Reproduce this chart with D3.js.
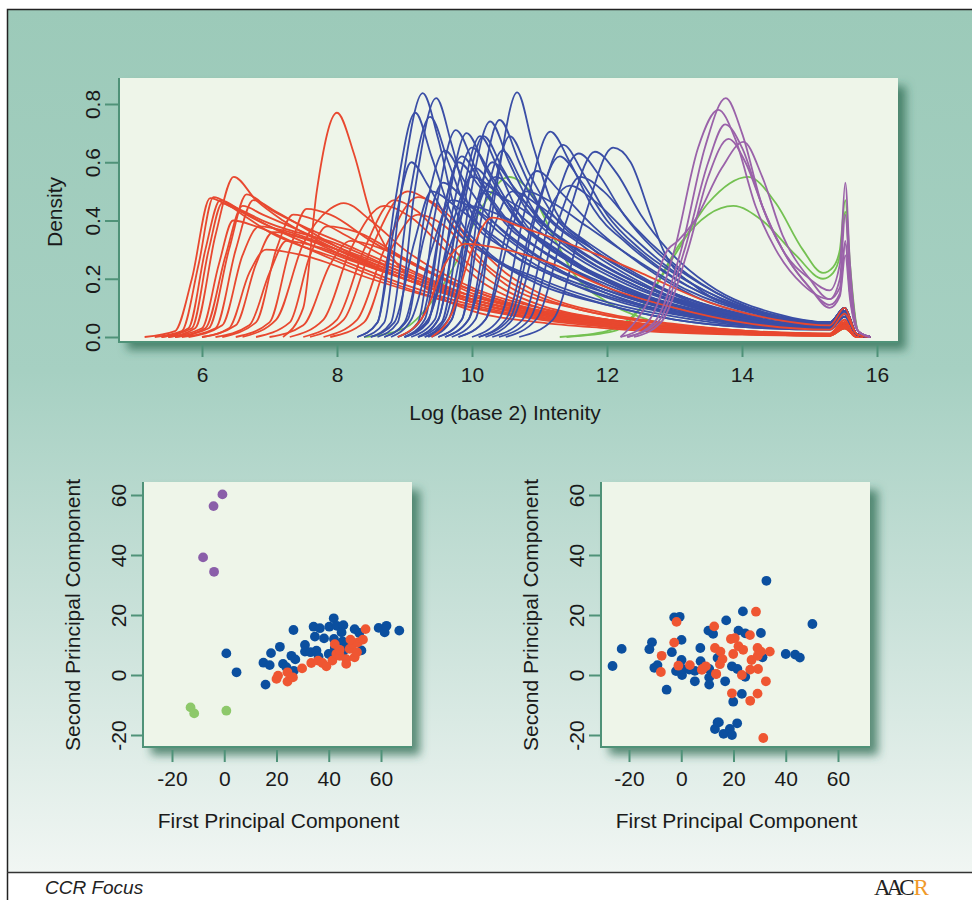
<!DOCTYPE html>
<html>
<head>
<meta charset="utf-8">
<script src="https://cdn.jsdelivr.net/npm/d3@7"></script>
<style>
  body { margin: 0; background: #ffffff; }
  svg { display: block; font-family: "Liberation Sans", Arial, sans-serif; }
  .axis-title { font-size: 21px; fill: #1a1a1a; }
  .axis-line { stroke: #4f9278; stroke-width: 2; fill: none; }
  .curve { fill: none; stroke-width: 1.8; stroke-linejoin: round; }
</style>
</head>
<body>
<svg id="figure"></svg>
<script>
/* SETUP */
var width = 972;
var height = 900;

/* DATA: density curves, knots [log2 intensity, density] */
var redCurves = [
  [[5.15,0],[5.6,0.02],[5.85,0.2],[6.12,0.477],[6.4,0.45],[7,0.38],[8,0.3],[9,0.21],[10,0.13],[11,0.08],[12,0.05],[13,0.03],[14,0.015],[15.3,0.008],[15.52,0.05],[15.65,0.005],[15.9,0]],
  [[5.3,0],[5.7,0.02],[5.95,0.25],[6.17,0.48],[6.45,0.45],[7,0.39],[8,0.32],[9,0.22],[10,0.14],[11,0.09],[12,0.06],[13,0.035],[14,0.02],[15.3,0.01],[15.52,0.06],[15.65,0.005],[15.9,0]],
  [[5.4,0],[5.8,0.03],[6.05,0.3],[6.27,0.47],[6.6,0.43],[7,0.38],[8,0.28],[9,0.2],[10,0.12],[11,0.07],[12,0.045],[13,0.025],[14,0.012],[15.3,0.006],[15.52,0.04],[15.7,0],[15.9,0]],
  [[5.5,0],[5.9,0.03],[6.2,0.35],[6.47,0.55],[6.8,0.47],[7.2,0.4],[8,0.3],[9,0.2],[10,0.12],[11,0.07],[12,0.04],[13,0.02],[14,0.01],[15.3,0.005],[15.52,0.04],[15.7,0],[15.9,0]],
  [[5.4,0],[5.85,0.03],[6.1,0.3],[6.3,0.46],[6.6,0.42],[7,0.36],[8,0.27],[9,0.18],[10,0.11],[11,0.065],[12,0.04],[13,0.02],[14,0.01],[15.3,0.005],[15.52,0.035],[15.7,0],[15.9,0]],
  [[5.6,0],[6.1,0.03],[6.4,0.3],[6.66,0.49],[7,0.44],[7.5,0.38],[8,0.33],[9,0.23],[10,0.14],[11,0.09],[12,0.06],[13,0.035],[14,0.018],[15.3,0.01],[15.52,0.05],[15.7,0],[15.9,0]],
  [[5.7,0],[6.2,0.03],[6.5,0.3],[6.76,0.47],[7.1,0.43],[8,0.31],[9,0.21],[10,0.13],[11,0.08],[12,0.05],[13,0.03],[14,0.015],[15.3,0.008],[15.52,0.045],[15.7,0],[15.9,0]],
  [[5.5,0],[6,0.03],[6.25,0.25],[6.46,0.4],[6.8,0.38],[7.5,0.31],[8,0.26],[9,0.17],[10,0.1],[11,0.06],[12,0.035],[13,0.02],[14,0.01],[15.3,0.005],[15.52,0.03],[15.7,0],[15.9,0]],
  [[5.6,0],[6.05,0.03],[6.35,0.28],[6.6,0.45],[6.9,0.42],[7.5,0.36],[8,0.31],[9,0.22],[10,0.13],[11,0.08],[12,0.05],[13,0.03],[14,0.015],[15.3,0.007],[15.52,0.04],[15.7,0],[15.9,0]],
  [[6.0,0],[6.5,0.04],[6.8,0.25],[7.05,0.36],[7.5,0.34],[8,0.29],[9,0.2],[10,0.12],[11,0.075],[12,0.045],[13,0.025],[14,0.012],[15.3,0.006],[15.52,0.04],[15.7,0],[15.9,0]],
  [[6.2,0],[6.7,0.04],[7.0,0.22],[7.25,0.33],[7.7,0.31],[8.5,0.24],[9.5,0.16],[10.5,0.1],[11.5,0.06],[12.5,0.035],[13.5,0.02],[14.5,0.01],[15.3,0.006],[15.52,0.04],[15.7,0],[15.9,0]],
  [[6.3,0],[6.8,0.05],[7.1,0.3],[7.35,0.42],[7.7,0.4],[8.2,0.34],[9,0.24],[10,0.14],[11,0.085],[12,0.05],[13,0.03],[14,0.015],[15.3,0.008],[15.52,0.05],[15.7,0],[15.9,0]],
  [[6.5,0],[7,0.05],[7.3,0.3],[7.55,0.44],[7.9,0.42],[8.5,0.33],[9.2,0.24],[10,0.16],[11,0.09],[12,0.055],[13,0.03],[14,0.015],[15.3,0.008],[15.52,0.05],[15.7,0],[15.9,0]],
  [[6.6,0],[7.1,0.06],[7.5,0.32],[7.9,0.44],[8.1,0.46],[8.5,0.4],[9,0.3],[10,0.17],[11,0.1],[12,0.06],[13,0.035],[14,0.018],[15.3,0.01],[15.52,0.05],[15.7,0],[15.9,0]],
  [[7.2,0],[7.5,0.1],[7.7,0.5],[8.0,0.77],[8.25,0.63],[8.5,0.42],[8.8,0.28],[9.3,0.17],[10,0.09],[11,0.05],[12,0.03],[13,0.015],[14,0.008],[15.3,0.004],[15.52,0.03],[15.7,0],[15.9,0]],
  [[6.8,0],[7.3,0.05],[7.6,0.28],[7.85,0.38],[8.3,0.36],[9,0.27],[10,0.15],[11,0.09],[12,0.055],[13,0.03],[14,0.015],[15.3,0.008],[15.52,0.04],[15.7,0],[15.9,0]],
  [[7.5,0],[8,0.06],[8.4,0.3],[8.85,0.47],[9.2,0.43],[9.6,0.33],[10,0.24],[10.5,0.16],[11,0.11],[12,0.06],[13,0.035],[14,0.018],[15.3,0.01],[15.52,0.05],[15.7,0],[15.9,0]],
  [[7.6,0],[8.1,0.06],[8.5,0.3],[9.05,0.5],[9.4,0.46],[9.8,0.36],[10.2,0.25],[10.7,0.17],[11.5,0.1],[12.5,0.055],[13.5,0.03],[14.5,0.015],[15.3,0.01],[15.52,0.05],[15.7,0],[15.9,0]],
  [[7.8,0],[8.3,0.06],[8.7,0.3],[9.2,0.48],[9.55,0.44],[10,0.33],[10.5,0.22],[11,0.15],[12,0.08],[13,0.045],[14,0.022],[15.3,0.012],[15.52,0.06],[15.7,0],[15.9,0]],
  [[7.3,0],[7.8,0.06],[8.2,0.3],[8.7,0.45],[9.1,0.41],[9.6,0.3],[10.2,0.18],[11,0.1],[12,0.055],[13,0.03],[14,0.015],[15.3,0.008],[15.52,0.04],[15.7,0],[15.9,0]],
  [[6.0,0],[6.4,0.03],[6.7,0.22],[6.95,0.3],[7.5,0.28],[8.5,0.2],[9.5,0.13],[10.5,0.08],[11.5,0.05],[12.5,0.03],[14,0.012],[15.3,0.006],[15.52,0.03],[15.7,0],[15.9,0]],
  [[7.0,0],[7.5,0.04],[7.9,0.25],[8.2,0.33],[8.7,0.3],[9.5,0.21],[10.5,0.12],[11.5,0.07],[12.5,0.04],[14,0.015],[15.3,0.008],[15.52,0.04],[15.7,0],[15.9,0]],
  [[5.8,0],[6.3,0.04],[6.6,0.28],[6.85,0.38],[7.3,0.36],[8,0.3],[9,0.2],[10,0.12],[11,0.07],[12,0.04],[13,0.022],[14,0.012],[15.3,0.006],[15.52,0.035],[15.7,0],[15.9,0]],
  [[7.9,0],[8.4,0.05],[8.8,0.3],[9.2,0.42],[9.6,0.38],[10,0.28],[10.5,0.18],[11.5,0.1],[12.5,0.055],[13.5,0.03],[15.3,0.01],[15.52,0.05],[15.7,0],[15.9,0]]
];

// red samples that sit on top of the blue bundle
var redLateCurves = [
  [[9.4,0],[9.7,0.08],[10,0.3],[10.3,0.41],[10.7,0.38],[11.2,0.34],[12,0.27],[12.6,0.21],[13.5,0.12],[14.5,0.06],[15.3,0.04],[15.52,0.1],[15.7,0.01],[15.9,0]],
  [[8.9,0],[9.3,0.08],[9.6,0.25],[9.9,0.32],[10.5,0.3],[11.2,0.25],[12,0.17],[13,0.1],[14,0.05],[15.3,0.025],[15.52,0.08],[15.7,0.01],[15.9,0]]
];

var blueCurves = [
  [[8.4,0],[8.7,0.05],[8.95,0.5],[9.27,0.837],[9.5,0.68],[9.75,0.44],[10.2,0.3],[11,0.2],[12,0.12],[13,0.07],[14,0.04],[15.3,0.03],[15.52,0.08],[15.7,0.01],[15.9,0]],
  [[8.6,0],[8.9,0.05],[9.15,0.5],[9.47,0.82],[9.7,0.66],[9.95,0.45],[10.4,0.32],[11.2,0.21],[12,0.14],[13,0.08],[14,0.045],[15.3,0.03],[15.52,0.09],[15.7,0.01],[15.9,0]],
  [[8.3,0],[8.6,0.05],[8.85,0.45],[9.16,0.77],[9.4,0.62],[9.7,0.42],[10.2,0.29],[11,0.19],[12,0.11],[13,0.06],[14,0.035],[15.3,0.025],[15.52,0.07],[15.7,0.01],[15.9,0]],
  [[8.5,0],[8.8,0.05],[9.05,0.45],[9.38,0.756],[9.65,0.6],[9.95,0.42],[10.5,0.3],[11.3,0.2],[12.2,0.12],[13.2,0.07],[14.2,0.04],[15.3,0.03],[15.52,0.08],[15.7,0.01],[15.9,0]],
  [[8.9,0],[9.2,0.05],[9.45,0.42],[9.76,0.71],[10.05,0.58],[10.4,0.42],[11,0.3],[12,0.18],[13,0.1],[14,0.055],[15.3,0.035],[15.52,0.09],[15.7,0.01],[15.9,0]],
  [[9.0,0],[9.35,0.05],[9.6,0.4],[9.92,0.7],[10.2,0.58],[10.6,0.42],[11.2,0.3],[12,0.2],[13,0.11],[14,0.06],[15.3,0.035],[15.52,0.09],[15.7,0.01],[15.9,0]],
  [[9.2,0],[9.55,0.05],[9.85,0.42],[10.17,0.69],[10.45,0.58],[10.8,0.44],[11.4,0.31],[12.2,0.2],[13.2,0.11],[14.2,0.06],[15.3,0.035],[15.52,0.09],[15.7,0.01],[15.9,0]],
  [[8.7,0],[9.0,0.05],[9.3,0.35],[9.57,0.53],[9.9,0.47],[10.4,0.36],[11,0.26],[12,0.16],[13,0.09],[14,0.05],[15.3,0.03],[15.52,0.08],[15.7,0.01],[15.9,0]],
  [[8.5,0],[8.85,0.05],[9.15,0.33],[9.4,0.5],[9.75,0.45],[10.3,0.35],[11,0.24],[12,0.15],[13,0.08],[14,0.045],[15.3,0.03],[15.52,0.07],[15.7,0.01],[15.9,0]],
  [[9.7,0],[10.05,0.06],[10.35,0.5],[10.67,0.84],[10.9,0.66],[11.2,0.45],[11.7,0.32],[12.5,0.2],[13.5,0.1],[14.5,0.05],[15.3,0.04],[15.52,0.1],[15.7,0.01],[15.9,0]],
  [[9.5,0],[9.85,0.06],[10.1,0.45],[10.41,0.745],[10.7,0.6],[11,0.45],[11.6,0.32],[12.4,0.2],[13.4,0.1],[14.4,0.05],[15.3,0.035],[15.52,0.09],[15.7,0.01],[15.9,0]],
  [[9.6,0],[9.95,0.06],[10.25,0.42],[10.56,0.69],[10.85,0.56],[11.2,0.42],[11.8,0.3],[12.6,0.19],[13.6,0.1],[14.6,0.05],[15.3,0.035],[15.52,0.09],[15.7,0.01],[15.9,0]],
  [[9.35,0],[9.7,0.06],[9.95,0.45],[10.27,0.74],[10.55,0.6],[10.9,0.44],[11.5,0.3],[12.3,0.19],[13.3,0.1],[14.3,0.05],[15.3,0.035],[15.52,0.09],[15.7,0.01],[15.9,0]],
  [[10.0,0],[10.4,0.06],[10.8,0.45],[11.16,0.705],[11.45,0.6],[11.8,0.44],[12.3,0.32],[13,0.2],[14,0.1],[15.3,0.05],[15.52,0.1],[15.7,0.01],[15.9,0]],
  [[10.1,0],[10.55,0.06],[10.95,0.42],[11.35,0.66],[11.65,0.56],[12,0.42],[12.5,0.3],[13.2,0.19],[14.2,0.09],[15.3,0.05],[15.52,0.1],[15.7,0.01],[15.9,0]],
  [[10.3,0],[10.75,0.06],[11.15,0.4],[11.58,0.63],[11.9,0.55],[12.25,0.42],[12.7,0.3],[13.4,0.18],[14.4,0.08],[15.3,0.05],[15.52,0.1],[15.7,0.01],[15.9,0]],
  [[10.5,0],[10.95,0.06],[11.4,0.4],[11.82,0.636],[12.15,0.56],[12.5,0.42],[12.9,0.3],[13.5,0.18],[14.5,0.08],[15.3,0.05],[15.52,0.1],[15.7,0.01],[15.9,0]],
  [[10.7,0],[11.2,0.06],[11.65,0.4],[12.09,0.65],[12.35,0.6],[12.64,0.42],[12.83,0.3],[13.33,0.17],[14.3,0.08],[15.3,0.05],[15.52,0.1],[15.7,0.01],[15.9,0]],
  [[9.8,0],[10.2,0.06],[10.6,0.38],[10.96,0.57],[11.3,0.5],[11.8,0.38],[12.5,0.25],[13.3,0.14],[14.3,0.07],[15.3,0.045],[15.52,0.1],[15.7,0.01],[15.9,0]],
  [[9.2,0],[9.5,0.06],[9.8,0.42],[10.12,0.69],[10.4,0.57],[10.7,0.42],[11.3,0.29],[12,0.19],[13,0.1],[14,0.05],[15.3,0.035],[15.52,0.08],[15.7,0.01],[15.9,0]],
  [[10.1,0],[10.5,0.06],[10.9,0.4],[11.3,0.62],[11.6,0.54],[12,0.4],[12.6,0.27],[13.4,0.15],[14.4,0.07],[15.3,0.045],[15.52,0.1],[15.7,0.01],[15.9,0]],
  [[9.0,0],[9.35,0.06],[9.7,0.38],[10.0,0.55],[10.35,0.5],[10.8,0.4],[11.5,0.28],[12.3,0.18],[13.3,0.1],[14.3,0.05],[15.3,0.035],[15.52,0.08],[15.7,0.01],[15.9,0]],
  [[8.9,0],[9.25,0.06],[9.55,0.4],[9.8,0.6],[10.1,0.52],[10.5,0.4],[11.2,0.27],[12,0.17],[13,0.09],[14,0.05],[15.3,0.03],[15.52,0.08],[15.7,0.01],[15.9,0]],
  [[9.3,0],[9.65,0.06],[10,0.4],[10.3,0.6],[10.6,0.52],[11,0.4],[11.7,0.28],[12.5,0.18],[13.5,0.09],[14.5,0.045],[15.3,0.035],[15.52,0.08],[15.7,0.01],[15.9,0]],
  [[8.7,0],[9.05,0.06],[9.3,0.42],[9.6,0.64],[9.9,0.53],[10.3,0.4],[11,0.27],[12,0.16],[13,0.09],[14,0.05],[15.3,0.03],[15.52,0.08],[15.7,0.01],[15.9,0]],
  [[9.8,0],[10.2,0.06],[10.5,0.35],[10.8,0.5],[11.2,0.46],[11.7,0.38],[12.4,0.27],[13.2,0.16],[14.2,0.08],[15.3,0.05],[15.52,0.1],[15.7,0.01],[15.9,0]],
  [[9.5,0],[9.85,0.06],[10.15,0.42],[10.45,0.64],[10.75,0.53],[11.1,0.42],[11.8,0.3],[12.6,0.19],[13.6,0.1],[14.6,0.05],[15.3,0.04],[15.52,0.09],[15.7,0.01],[15.9,0]],
  [[8.3,0],[8.6,0.05],[8.85,0.38],[9.1,0.6],[9.35,0.52],[9.7,0.38],[10.3,0.27],[11,0.18],[12,0.11],[13,0.06],[14,0.035],[15.3,0.025],[15.52,0.07],[15.7,0.01],[15.9,0]],
  [[9.1,0],[9.45,0.06],[9.7,0.42],[10.0,0.65],[10.3,0.55],[10.7,0.4],[11.3,0.28],[12.1,0.18],[13.1,0.1],[14.1,0.05],[15.3,0.035],[15.52,0.08],[15.7,0.01],[15.9,0]],
  [[10.4,0],[10.85,0.06],[11.25,0.38],[11.6,0.55],[11.95,0.5],[12.4,0.38],[13,0.25],[13.8,0.13],[14.8,0.06],[15.3,0.05],[15.52,0.1],[15.7,0.01],[15.9,0]],
  [[9.0,0],[9.35,0.06],[9.7,0.33],[9.95,0.45],[10.4,0.42],[11,0.34],[11.8,0.22],[12.6,0.14],[13.6,0.08],[14.6,0.04],[15.3,0.03],[15.52,0.08],[15.7,0.01],[15.9,0]],
  [[9.3,0],[9.6,0.06],[9.9,0.35],[10.2,0.5],[10.6,0.46],[11.2,0.36],[12,0.24],[12.8,0.15],[13.8,0.08],[14.8,0.04],[15.3,0.035],[15.52,0.08],[15.7,0.01],[15.9,0]],
  [[9.0,0],[9.3,0.06],[9.55,0.4],[9.85,0.62],[10.15,0.52],[10.6,0.38],[11.3,0.26],[12.1,0.16],[13.1,0.09],[14.1,0.045],[15.3,0.03],[15.52,0.08],[15.7,0.01],[15.9,0]],
  [[9.2,0],[9.5,0.06],[9.75,0.36],[10.05,0.58],[10.35,0.5],[10.8,0.37],[11.5,0.25],[12.3,0.16],[13.3,0.09],[14.3,0.045],[15.3,0.035],[15.52,0.08],[15.7,0.01],[15.9,0]],
  [[9.4,0],[9.7,0.06],[10.0,0.38],[10.35,0.55],[10.7,0.48],[11.2,0.36],[11.9,0.25],[12.7,0.16],[13.7,0.09],[14.7,0.045],[15.3,0.035],[15.52,0.08],[15.7,0.01],[15.9,0]],
  [[8.8,0],[9.1,0.06],[9.4,0.3],[9.7,0.47],[10.1,0.43],[10.6,0.34],[11.3,0.23],[12.1,0.14],[13.1,0.08],[14.1,0.04],[15.3,0.03],[15.52,0.07],[15.7,0.01],[15.9,0]],
  [[9.6,0],[9.95,0.06],[10.3,0.36],[10.6,0.5],[11.0,0.45],[11.5,0.36],[12.2,0.25],[13,0.15],[14,0.08],[15.3,0.045],[15.52,0.09],[15.7,0.01],[15.9,0]],
  [[10.2,0],[10.6,0.06],[11.0,0.36],[11.45,0.52],[11.8,0.47],[12.3,0.36],[12.9,0.24],[13.7,0.13],[14.7,0.06],[15.3,0.05],[15.52,0.1],[15.7,0.01],[15.9,0]]
];

var purpleCurves = [
  [[12.3,0],[12.7,0.05],[13.1,0.3],[13.45,0.65],[13.76,0.82],[14.0,0.7],[14.3,0.45],[14.6,0.3],[15.0,0.2],[15.3,0.16],[15.45,0.25],[15.53,0.53],[15.6,0.25],[15.72,0.02],[15.9,0]],
  [[12.2,0],[12.6,0.05],[13.0,0.3],[13.35,0.65],[13.65,0.78],[13.9,0.68],[14.2,0.45],[14.5,0.3],[14.9,0.18],[15.3,0.13],[15.45,0.2],[15.53,0.42],[15.6,0.2],[15.72,0.02],[15.9,0]],
  [[12.3,0],[12.75,0.05],[13.15,0.3],[13.5,0.6],[13.75,0.73],[14.0,0.65],[14.3,0.45],[14.6,0.3],[15.0,0.17],[15.3,0.11],[15.45,0.15],[15.53,0.33],[15.6,0.15],[15.72,0.02],[15.9,0]],
  [[12.2,0],[12.6,0.12],[12.9,0.3],[13.05,0.33],[13.3,0.4],[13.7,0.58],[14.02,0.67],[14.3,0.55],[14.6,0.35],[15.0,0.2],[15.3,0.13],[15.45,0.17],[15.53,0.32],[15.6,0.15],[15.72,0.02],[15.9,0]],
  [[12.4,0],[12.8,0.05],[13.2,0.3],[13.5,0.55],[13.8,0.68],[14.05,0.6],[14.35,0.42],[14.7,0.26],[15.0,0.17],[15.3,0.1],[15.45,0.14],[15.53,0.28],[15.6,0.13],[15.72,0.02],[15.9,0]]
];

var greenCurves = [
  [[8.4,0],[9.0,0.03],[9.4,0.12],[9.75,0.25],[10.16,0.45],[10.55,0.55],[10.86,0.5],[11.26,0.32],[11.5,0.22],[12,0.12],[12.6,0.06],[13.5,0.02],[15.3,0.005],[15.53,0.03],[15.72,0],[15.9,0]],
  [[11.3,0],[12.0,0.02],[12.5,0.1],[13.0,0.28],[13.5,0.46],[14.09,0.55],[14.5,0.46],[14.9,0.3],[15.2,0.22],[15.35,0.24],[15.45,0.3],[15.53,0.47],[15.6,0.25],[15.72,0.02],[15.9,0]],
  [[11.4,0],[12.1,0.02],[12.6,0.13],[13.08,0.32],[13.5,0.42],[13.87,0.45],[14.3,0.4],[14.8,0.28],[15.2,0.2],[15.35,0.22],[15.45,0.28],[15.53,0.43],[15.6,0.22],[15.72,0.02],[15.9,0]]
];

var densityXTicks = [6, 8, 10, 12, 14, 16];
var densityYTicks = [0, 0.2, 0.4, 0.6, 0.8];

/* DATA: principal components, [first, second] */
var pcTicks = [-20, 0, 20, 40, 60];

var leftBlue = [[0.8,7.2],[4.7,0.9],[15.8,-3.2],[15.0,4.1],[17.4,3.3],[17.9,7.3],[21.3,9.4],[22.5,3.7],[23.8,2.6],[25.7,6.4],[27.2,5.2],[26.5,15.0],[26.6,1.4],[30.9,10.0],[30.9,7.8],[33.0,7.6],[35.3,8.1],[36.1,6.1],[34.2,16.1],[36.6,15.6],[34.7,12.8],[38.2,12.2],[40.0,7.0],[40.2,16.1],[41.9,18.9],[43.1,16.4],[45.6,16.6],[44.9,14.2],[42.0,12.0],[42.3,9.0],[45.3,11.2],[47.0,10.3],[45.7,8.1],[49.9,15.3],[51.7,14.0],[52.5,8.2],[59.1,15.7],[61.4,14.2],[62.1,16.4],[67.0,14.8]];
var leftRed = [[20.0,-1.3],[20.6,-0.2],[24.2,-2.2],[24.2,0.9],[26.3,-0.8],[29.8,2.2],[33.3,4.0],[35.9,4.8],[37.6,4.0],[39.1,2.9],[41.4,4.8],[42.9,7.0],[44.2,6.4],[46.7,5.3],[46.7,3.7],[48.0,8.7],[49.9,5.9],[50.8,7.6],[49.3,10.3],[51.2,10.9],[53.1,11.8],[54.1,15.3],[42.3,10.3],[48.3,11.8],[44.2,8.4]];
var leftPurple = [[-0.7,60.2],[-4.1,56.3],[-8.1,39.2],[-3.9,34.4]];
var leftGreen = [[-12.9,-10.8],[-11.5,-12.8],[0.8,-11.9]];

var rightBlue = [[-26.3,3.0],[-22.8,8.7],[-11.2,10.9],[-12.2,8.6],[-10.3,2.4],[-9.1,3.3],[-5.6,-4.9],[-3.6,7.6],[-2.7,19.2],[-0.6,19.4],[0.1,11.7],[0.1,5.0],[-2.0,1.3],[0.3,0.0],[0.5,2.0],[3.1,1.8],[5.2,1.4],[5.2,-2.1],[7.4,4.6],[7.3,9.0],[10.7,2.0],[10.7,-0.8],[10.7,-3.2],[10.4,14.8],[12.2,13.7],[13.9,5.7],[13.9,-15.8],[12.9,-18.0],[32.6,31.4],[50.2,17.0],[40.0,7.0],[43.6,6.8],[45.4,5.8],[23.6,21.2],[17.2,18.2],[21.9,14.8],[24.5,13.9],[30.5,14.0],[16.8,-2.1],[19.4,2.9],[21.5,2.0],[24.5,-0.6],[31.1,5.9],[23.2,-6.3],[19.9,-8.9],[14.4,-15.8],[16.2,-19.6],[18.6,-18.0],[19.4,-20.0],[21.4,-16.1]];
var rightRed = [[-1.8,17.7],[-2.7,10.8],[-7.5,6.4],[-7.8,1.0],[-1.1,3.1],[3.3,3.3],[8.1,2.0],[9.4,2.9],[12.6,16.2],[12.9,9.0],[13.3,0.4],[28.6,21.1],[19.0,12.0],[20.5,12.3],[26.3,13.3],[15.0,7.8],[21.9,9.6],[23.7,8.4],[29.2,9.0],[30.5,7.8],[33.9,7.8],[19.9,7.0],[15.8,5.3],[14.8,3.6],[26.9,5.0],[29.3,6.4],[7.9,1.7],[13.4,0.3],[23.2,0.0],[26.4,1.8],[29.4,2.0],[32.4,-2.1],[19.4,-6.1],[29.2,-6.2],[26.4,-8.6],[31.4,-21.0]];

/* COLOURS */
var lineColor = { red: "#e8482f", blue: "#3a4ea6", purple: "#9a62a9", green: "#74c152" };
var dotColor = { red: "#ef5632", blue: "#0b4f9f", purple: "#8a5ea9", green: "#8dc86a" };


/* DRAW */
var svg = d3.select("#figure")
    .attr("width", width)
    .attr("height", height);

var defs = svg.append("defs");

var bg = defs.append("linearGradient")
    .attr("id", "bg-grad")
    .attr("x1", 0).attr("y1", 0).attr("x2", 0).attr("y2", 1);
bg.selectAll("stop")
  .data([[0, "#9ccab9"], [0.42, "#a6d0c2"], [0.7, "#c9e1d9"], [1, "#f1f6f3"]])
  .enter()
  .append("stop")
    .attr("offset", d => d[0])
    .attr("stop-color", d => d[1]);

defs.append("filter")
    .attr("id", "shadow")
    .attr("x", "-10%").attr("y", "-10%")
    .attr("width", "130%").attr("height", "130%")
  .append("feDropShadow")
    .attr("dx", 8).attr("dy", 8)
    .attr("stdDeviation", 5)
    .attr("flood-color", "#2f6a52")
    .attr("flood-opacity", 0.75);

drawFrame();
drawDensity();
drawScatter({ left: 143, top: 482, right: 412, bottom: 747, xRange: [172, 381], yRange: [735, 495] },
  [[leftBlue, dotColor.blue], [leftRed, dotColor.red], [leftPurple, dotColor.purple], [leftGreen, dotColor.green]]);
drawScatter({ left: 601, top: 482, right: 870, bottom: 747, xRange: [629, 838], yRange: [735, 495] },
  [[rightBlue, dotColor.blue], [rightRed, dotColor.red]]);


/* BACKGROUND, FRAME AND FOOTER */
function drawFrame() {
  svg.append("rect")
    .attr("width", width).attr("height", height)
    .attr("fill", "#ffffff");

  svg.append("rect")
    .attr("x", 7).attr("y", 9)
    .attr("width", width - 7).attr("height", 863)
    .attr("fill", "url(#bg-grad)");

  svg.append("path")
    .attr("d", "M7.5," + height + "V9.5H" + width)
    .attr("fill", "none")
    .attr("stroke", "#222")
    .attr("stroke-width", 1.5);

  svg.append("line")
    .attr("x1", 7).attr("x2", width)
    .attr("y1", 872.5).attr("y2", 872.5)
    .attr("stroke", "#333")
    .attr("stroke-width", 1.5);

  svg.append("text")
    .attr("x", 45).attr("y", 894)
    .style("font-size", "19px")
    .style("font-style", "italic")
    .attr("fill", "#222")
    .text("CCR Focus");

  let logo = svg.append("text")
    .attr("x", 874).attr("y", 895)
    .style("font-family", "'Liberation Serif', serif")
    .style("font-size", "23px")
    .style("letter-spacing", "-4px")
    .attr("fill", "#222")
    .text("AAC");
  logo.append("tspan")
    .attr("fill", "#f09a2a")
    .attr("dx", 3)
    .text("R");
}


/* DENSITY PLOT */
function drawDensity() {
  let x = d3.scaleLinear().domain([6, 16]).range([202, 877]);
  let y = d3.scaleLinear().domain([0, 0.8]).range([337, 104]);

  let panel = { left: 119, top: 78, right: 898, bottom: 342 };
  drawPanel(panel);

  let line = d3.line()
    .x(d => x(d[0]))
    .y(d => y(d[1]))
    .curve(d3.curveMonotoneX);

  let g = svg.append("g").attr("id", "density");
  let groups = [
    [greenCurves, lineColor.green],
    [redCurves, lineColor.red],
    [blueCurves, lineColor.blue],
    [redLateCurves, lineColor.red],
    [purpleCurves, lineColor.purple]
  ];
  groups.forEach(function(grp) {
    g.append("g")
      .selectAll("path")
      .data(grp[0])
      .enter()
      .append("path")
        .attr("class", "curve")
        .attr("d", line)
        .attr("stroke", grp[1]);
  });

  // x axis: ticks hang below the panel
  let xAxis = d3.axisBottom(x)
      .tickValues(densityXTicks)
      .tickSize(12)
      .tickPadding(10)
      .tickFormat(d => String(d));
  let xg = svg.append("g")
      .attr("transform", translate(0, panel.bottom + 3))
      .call(xAxis);
  styleAxis(xg);

  // y axis sits on the panel's left edge
  let yAxis = d3.axisLeft(y)
      .tickValues(densityYTicks)
      .tickSize(14)
      .tickFormat(d3.format(".1f"));
  let yg = svg.append("g")
      .attr("transform", translate(panel.left, 0))
      .call(yAxis);
  styleAxis(yg);
  rotateYLabels(yg, 19);

  svg.append("text")
    .attr("class", "axis-title")
    .attr("x", 505).attr("y", 420)
    .attr("text-anchor", "middle")
    .text("Log (base 2) Intenity");

  svg.append("text")
    .attr("class", "axis-title")
    .attr("transform", translate(62, 212) + " rotate(-90)")
    .attr("text-anchor", "middle")
    .text("Density");
}


/* SCATTER PLOTS */
function drawScatter(box, series) {
  let x = d3.scaleLinear().domain([-20, 60]).range(box.xRange);
  let y = d3.scaleLinear().domain([-20, 60]).range(box.yRange);

  drawPanel(box);

  let g = svg.append("g");
  series.forEach(function(s) {
    g.append("g")
      .selectAll("circle")
      .data(s[0])
      .enter()
      .append("circle")
        .attr("cx", d => x(d[0]))
        .attr("cy", d => y(d[1]))
        .attr("r", 4.9)
        .attr("fill", s[1]);
  });

  let xAxis = d3.axisBottom(x)
      .tickValues(pcTicks)
      .tickSize(12)
      .tickPadding(9)
      .tickFormat(d => String(d));
  let xg = svg.append("g")
      .attr("transform", translate(0, box.bottom + 3))
      .call(xAxis);
  styleAxis(xg);

  let yAxis = d3.axisLeft(y)
      .tickValues(pcTicks)
      .tickSize(12)
      .tickFormat(d => String(d));
  let yg = svg.append("g")
      .attr("transform", translate(box.left, 0))
      .call(yAxis);
  styleAxis(yg);
  rotateYLabels(yg, 17);

  let cx = (box.left + box.right) / 2;
  svg.append("text")
    .attr("class", "axis-title")
    .attr("x", cx + 1).attr("y", 828)
    .attr("text-anchor", "middle")
    .text("First Principal Component");

  svg.append("text")
    .attr("class", "axis-title")
    .attr("transform", translate(box.left - 63, 615) + " rotate(-90)")
    .attr("text-anchor", "middle")
    .text("Second Principal Component");
}


/* HELPERS */
function drawPanel(p) {
  svg.append("rect")
    .attr("x", p.left).attr("y", p.top)
    .attr("width", p.right - p.left)
    .attr("height", p.bottom - p.top)
    .attr("fill", "#eef5e9")
    .attr("filter", "url(#shadow)");

  svg.append("path")
    .attr("class", "axis-line")
    .attr("d", "M" + p.left + "," + p.top + "V" + p.bottom + "H" + p.right);
}

function styleAxis(g) {
  g.select(".domain").remove();
  g.selectAll(".tick line")
    .attr("stroke", "#4f9278")
    .attr("stroke-width", 2);
  g.selectAll(".tick text")
    .style("font-size", "21px")
    .style("font-family", "'Liberation Sans', Arial, sans-serif")
    .attr("fill", "#1a1a1a");
}

function rotateYLabels(g, offset) {
  g.selectAll(".tick text")
    .attr("x", 0)
    .attr("dy", null)
    .attr("text-anchor", "middle")
    .attr("transform", translate(-offset, 0) + " rotate(-90)");
}

function translate(x, y) {
  return "translate(" + String(x) + "," + String(y) + ")";
}
</script>
</body>
</html>
